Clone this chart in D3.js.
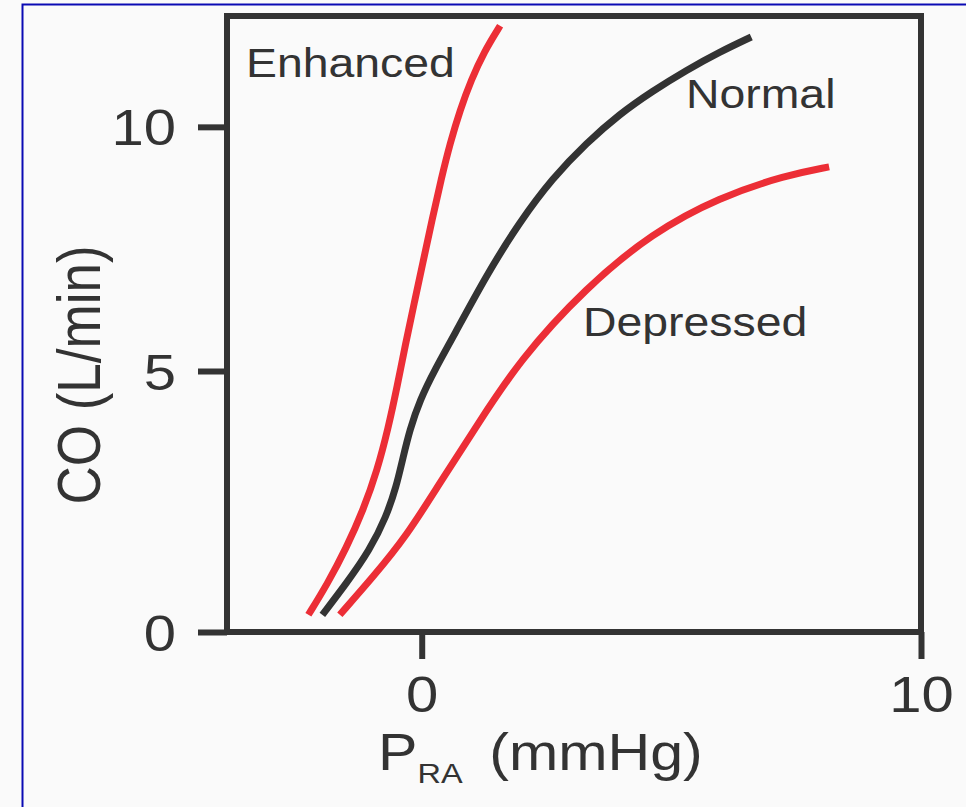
<!DOCTYPE html>
<html>
<head>
<meta charset="utf-8">
<script src="https://cdn.jsdelivr.net/npm/d3@7"></script>
<style>
  body { margin: 0; background: #fafafa; }
  svg { display: block; }
</style>
</head>
<body>
<script>
// curve points: P_RA (mmHg) vs CO (L/min)
const enhancedP = [-2.27, -1.89, -1.51, -1.17, -0.89, -0.67, -0.49, -0.33, -0.15, 0.03, 0.21, 0.39, 0.57, 0.77, 0.99, 1.25, 1.57];
const enhancedCO = [0.33, 0.92, 1.61, 2.34, 3.1, 3.91, 4.71, 5.53, 6.39, 7.25, 8.11, 8.93, 9.67, 10.35, 10.96, 11.54, 12.07];

const normalP = [-1.99, -1.51, -1.04, -0.71, -0.51, -0.37, -0.24, -0.04, 0.28, 0.62, 1.3, 1.96, 2.62, 3.3, 3.96, 4.62, 5.3, 5.96, 6.6];
const normalCO = [0.33, 0.93, 1.57, 2.21, 2.78, 3.36, 3.87, 4.44, 5.06, 5.68, 6.97, 8.05, 8.95, 9.67, 10.26, 10.73, 11.16, 11.53, 11.84];

const depressedP = [-1.64, -0.97, -0.31, 0.36, 1.09, 1.96, 3.3, 4.62, 5.96, 7.3, 8.16];
const depressedCO = [0.33, 1.06, 1.83, 2.85, 3.93, 5.23, 6.72, 7.83, 8.56, 9.01, 9.18];

const xTicks = [0, 10];
const yTicks = [0, 5, 10];

const seriesNames = ["Enhanced", "Normal", "Depressed"];

var width = 966;
var height = 807;
var stretch = 1.16; // source figure is a bit wider than tall
var ink = "#333333";
var red = "#ec2e36";
var font = "'Liberation Sans', Arial, sans-serif";

var svg = d3
  .select("body")
  .append("svg")
  .attr("width", width)
  .attr("height", height);

// blue frame of the slide
svg
  .append("rect")
  .attr("x", 22.5)
  .attr("y", 4.5)
  .attr("width", 1000)
  .attr("height", 1000)
  .attr("fill", "none")
  .attr("stroke", "#0a0ab4")
  .attr("stroke-width", 2);

var plot = { left: 227, right: 921, top: 16, bottom: 632 };

var x = d3.scaleLinear().domain([-3.9, 10]).range([plot.left, plot.right]);
// the original y axis is drawn a little unevenly (0-5 taller than 5-10)
var y = d3.scaleLinear().domain([0, 5, 12.27]).range([plot.bottom, 371, plot.top]);

// axes
var xAxis = svg
  .append("g")
  .attr("transform", `translate(0,${plot.bottom})`)
  .call(d3.axisBottom(x).tickValues(xTicks).tickSize(27).tickSizeOuter(0).tickPadding(18));

var yAxis = svg
  .append("g")
  .attr("transform", `translate(${plot.left},0)`)
  .call(d3.axisLeft(y).tickValues(yTicks).tickSize(29).tickSizeOuter(0));

[xAxis, yAxis].forEach(function (ax) {
  ax.select(".domain").remove();
  ax.selectAll(".tick line").attr("stroke", ink).attr("stroke-width", 6);
  ax.selectAll(".tick text")
    .attr("fill", ink)
    .attr("font-family", font)
    .attr("font-size", 50);
});

xAxis.selectAll(".tick text").attr("transform", `scale(${stretch},1)`);
yAxis
  .selectAll(".tick text")
  .attr("x", -51 / stretch)
  .attr("dy", "0.36em")
  .attr("transform", `scale(${stretch},1)`);

// box round the plot
svg
  .append("rect")
  .attr("x", plot.left)
  .attr("y", plot.top)
  .attr("width", plot.right - plot.left)
  .attr("height", plot.bottom - plot.top)
  .attr("fill", "none")
  .attr("stroke", ink)
  .attr("stroke-width", 6);

// curves
const series = [
  { name: seriesNames[0], p: enhancedP, co: enhancedCO, color: red },
  { name: seriesNames[1], p: normalP, co: normalCO, color: ink },
  { name: seriesNames[2], p: depressedP, co: depressedCO, color: red }
];

// basis smooths out the wobble from reading points by eye
var line = d3
  .line()
  .x(function (d) { return x(d[0]); })
  .y(function (d) { return y(d[1]); })
  .curve(d3.curveBasis);

svg
  .selectAll(".curve")
  .data(series)
  .enter()
  .append("path")
  .attr("class", "curve")
  .attr("d", function (s) {
    return line(s.p.map(function (v, i) { return [v, s.co[i]]; }));
  })
  .attr("fill", "none")
  .attr("stroke", function (s) { return s.color; })
  .attr("stroke-width", 7);

// curve labels
const labelSpots = [[246, 77], [686, 108], [583, 336]];

svg
  .selectAll(".curve-label")
  .data(series)
  .enter()
  .append("text")
  .attr("class", "curve-label")
  .attr("transform", function (s, i) {
    return `translate(${labelSpots[i][0]},${labelSpots[i][1]}) scale(${stretch},1)`;
  })
  .attr("fill", ink)
  .attr("font-family", font)
  .attr("font-size", 40)
  .text(function (s) { return s.name; });

// axis titles
var xTitle = svg
  .append("text")
  .attr("transform", `translate(378,770) scale(${stretch},1)`)
  .attr("fill", ink)
  .attr("font-family", font)
  .attr("font-size", 51);

xTitle.append("tspan").text("P");
xTitle.append("tspan").attr("font-size", 28).attr("dy", 13).text("RA");
xTitle.append("tspan").attr("dy", -13).attr("dx", 23).text("(mmHg)");

svg
  .append("text")
  .attr("transform", `translate(100,375) rotate(-90) scale(1,${stretch})`)
  .attr("text-anchor", "middle")
  .attr("fill", ink)
  .attr("font-family", font)
  .attr("font-size", 53)
  .text("CO (L/min)");
</script>
</body>
</html>
